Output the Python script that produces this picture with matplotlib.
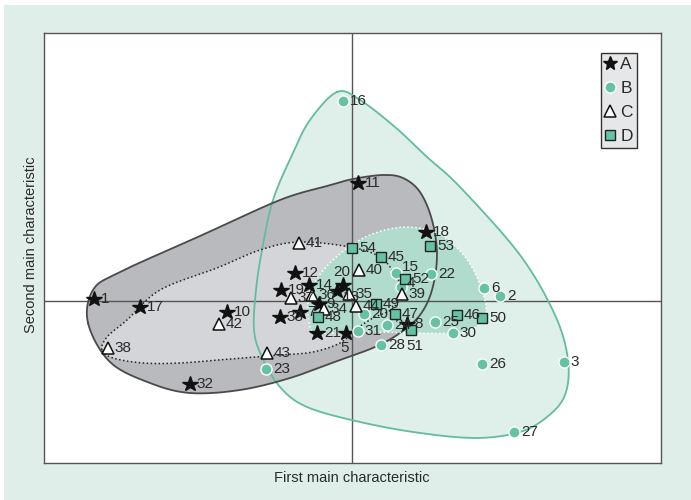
import numpy as np
import matplotlib
matplotlib.use("Agg")
import matplotlib.pyplot as plt
from matplotlib.patches import Polygon, Rectangle
from matplotlib.lines import Line2D

# ---------------- data (first / second main characteristic) ----------------
A_labels = ["1", "17", "10", "32", "19", "12", "14", "33", "7", "9", "21", "5", "20", "13", "11", "18", "8"]
A_x = [-2.58, -2.12, -1.25, -1.62, -0.71, -0.57, -0.43, -0.72, -0.52, -0.33, -0.35, -0.06, -0.09, -0.15, 0.06, 0.74, 0.55]
A_y = [0.02, -0.06, -0.11, -0.83, 0.11, 0.28, 0.16, -0.16, -0.11, -0.03, -0.32, -0.32, 0.16, 0.10, 1.18, 0.69, -0.23]

B_labels = ["16", "15", "4", "22", "20", "31", "24", "28", "25", "30", "6", "2", "26", "3", "27", "23"]
B_x = [-0.09, 0.44, 0.49, 0.79, 0.12, 0.06, 0.35, 0.29, 0.83, 1.01, 1.32, 1.48, 1.30, 2.12, 1.62, -0.86]
B_y = [2.00, 0.28, 0.14, 0.27, -0.13, -0.30, -0.24, -0.44, -0.21, -0.32, 0.13, 0.05, -0.63, -0.61, -1.31, -0.68]

C_labels = ["41", "40", "37", "36", "34", "35", "44", "39", "42", "38", "43"]
C_x = [-0.53, 0.07, -0.61, -0.40, -0.28, -0.03, 0.04, 0.50, -1.33, -2.44, -0.85]
C_y = [0.58, 0.31, 0.03, 0.06, -0.08, 0.07, -0.05, 0.07, -0.23, -0.47, -0.52]

D_labels = ["54", "45", "53", "52", "49", "48", "47", "51", "46", "50"]
D_x = [0.00, 0.29, 0.78, 0.53, 0.24, -0.34, 0.43, 0.59, 1.05, 1.30]
D_y = [0.53, 0.44, 0.55, 0.22, -0.03, -0.16, -0.13, -0.29, -0.14, -0.17]

# group envelopes (control points of smooth closed outlines)
hullA_x = [-2.64, -2.59, -2.32, -1.52, -0.72, -0.25, 0.01, 0.31, 0.51, 0.68, 0.80, 0.85, 0.80, 0.68, 0.48, 0.23, -0.12, -0.62, -1.12, -1.62, -2.02, -2.42]
hullA_y = [-0.22, 0.11, 0.29, 0.65, 1.01, 1.15, 1.22, 1.26, 1.23, 1.09, 0.81, 0.46, 0.11, -0.14, -0.32, -0.46, -0.59, -0.77, -0.89, -0.92, -0.82, -0.61]

hullB_x = [-0.15, 0.08, 0.43, 0.75, 1.08, 1.68, 2.03, 2.16, 2.13, 1.95, 1.68, 1.25, 0.68, 0.08, -0.45, -0.72, -0.90, -0.98, -0.96, -0.90, -0.79, -0.59, -0.42]
hullB_y = [2.09, 2.01, 1.74, 1.44, 1.14, 0.46, -0.14, -0.59, -0.94, -1.16, -1.31, -1.37, -1.32, -1.21, -1.06, -0.86, -0.56, -0.29, 0.11, 0.51, 1.01, 1.48, 1.81]

hullC_x = [-2.50, -2.45, -2.25, -1.92, -1.35, -0.92, -0.53, -0.02, 0.28, 0.44, 0.50, 0.40, 0.21, 0.03, -0.12, -0.39, -0.72, -1.22, -1.72, -2.09, -2.39]
hullC_y = [-0.49, -0.36, -0.19, 0.11, 0.33, 0.51, 0.59, 0.54, 0.44, 0.25, 0.09, -0.08, -0.17, -0.29, -0.42, -0.51, -0.54, -0.58, -0.62, -0.62, -0.57]

hullD_x = [-0.40, -0.44, -0.39, -0.24, -0.02, 0.23, 0.53, 0.83, 1.03, 1.18, 1.30, 1.34, 1.24, 1.03, 0.68, 0.18, -0.22]
hullD_y = [-0.30, -0.04, 0.16, 0.36, 0.55, 0.68, 0.74, 0.69, 0.55, 0.37, 0.11, -0.12, -0.26, -0.32, -0.32, -0.31, -0.32]

legend_labels = ["A", "B", "C", "D"]

# ---------------- styling ----------------
GREEN = "#66c2a5"
GREEN_EDGE = "#62bd9c"
MINT_BG = "#e0eee9"
MINT_HULL = "#dfefe9"
TEAL = "#b1dccd"
GRAY_DARK = "#b9babe"
GRAY_LIGHT = "#d4d5d8"
TXT = "#2a2a2a"
LBL_FONT = ["Liberation Sans Narrow", "Liberation Sans", "DejaVu Sans"]


def closed_spline(xs, ys, n=20):
    P = np.column_stack([xs, ys]).astype(float)
    m = len(P)
    out = []
    t = np.linspace(0, 1, n, endpoint=False)[:, None]
    for i in range(m):
        p0, p1, p2, p3 = P[(i - 1) % m], P[i], P[(i + 1) % m], P[(i + 2) % m]
        seg = 0.5 * ((2 * p1) + (-p0 + p2) * t + (2 * p0 - 5 * p1 + 4 * p2 - p3) * t ** 2
                     + (-p0 + 3 * p1 - 3 * p2 + p3) * t ** 3)
        out.append(seg)
    out = np.vstack(out)
    return np.vstack([out, out[:1]])


fig = plt.figure(figsize=(6.91, 5.0), dpi=100)
fig.patch.set_facecolor("white")
fig.patches.append(Rectangle((4 / 691, 0), 1, 495 / 500, transform=fig.transFigure,
                             facecolor=MINT_BG, edgecolor="none", zorder=-10))

ax = fig.add_axes([44 / 691, 1 - 463 / 500, 617 / 691, 430 / 500])
ax.set_zorder(1)
ax.set_facecolor("white")
ax.set_xlim(-3.08, 3.09)
ax.set_ylim(-1.62, 2.68)
ax.set_xticks([])
ax.set_yticks([])
for s in ax.spines.values():
    s.set_color("#555555")
    s.set_linewidth(1.0)

# envelopes
sB = closed_spline(hullB_x, hullB_y)
sA = closed_spline(hullA_x, hullA_y)
sC = closed_spline(hullC_x, hullC_y)
sD = closed_spline(hullD_x, hullD_y)
ax.add_patch(Polygon(sB, closed=True, facecolor=MINT_HULL, edgecolor="none", zorder=1))
ax.add_patch(Polygon(sA, closed=True, facecolor=GRAY_DARK, edgecolor="none", zorder=2))
ax.add_patch(Polygon(sC, closed=True, facecolor=GRAY_LIGHT, edgecolor="none", zorder=3))
ax.add_patch(Polygon(sD, closed=True, facecolor=TEAL, edgecolor="none", zorder=4))

ax.axhline(0, color="#555555", lw=1.0, zorder=5)
ax.axvline(0, color="#555555", lw=1.0, zorder=5)

ax.plot(sB[:, 0], sB[:, 1], color=GREEN_EDGE, lw=1.3, zorder=6)
ax.plot(sA[:, 0], sA[:, 1], color="#4a4a4a", lw=1.3, zorder=6)
ax.plot(sC[:, 0], sC[:, 1], color="#222222", lw=1.1, ls=(0, (1, 1.6)), zorder=6)
ax.plot(sD[:, 0], sD[:, 1], color="white", lw=1.1, ls=(0, (1, 1.6)), zorder=6)

# markers
ax.plot(A_x, A_y, ls="none", marker="*", ms=11.5, mfc="#111111", mec="#111111", zorder=8)
ax.plot(B_x, B_y, ls="none", marker="o", ms=8, mfc=GREEN, mec="white", mew=1.0, zorder=8)
ax.plot(C_x, C_y, ls="none", marker="^", ms=9, mfc="white", mec="#111111", mew=1.1, zorder=8)
ax.plot(D_x, D_y, ls="none", marker="s", ms=7.5, mfc=GREEN, mec="#222222", mew=1.0, zorder=8)

special = {("A", "5"): (-1, -10.5, "center"), ("D", "51"): (3, -11.5, "center"),
           ("A", "20"): (-1, 9.5, "center"), ("A", "13"): (4, -4, "left"),
           ("B", "15"): (4, 4, "left"), ("B", "4"): (4, 3, "left")}


def label(group, labels, xs, ys):
    for lab, x, y in zip(labels, xs, ys):
        dx, dy, ha = special.get((group, lab), (5, 0, "left"))
        ax.annotate(lab, (x, y), xytext=(dx, dy), textcoords="offset points",
                    ha=ha, va="center", fontsize=11, color=TXT,
                    family=LBL_FONT, zorder=9)


label("A", A_labels, A_x, A_y)
label("B", B_labels, B_x, B_y)
label("C", C_labels, C_x, C_y)
label("D", D_labels, D_x, D_y)

handles = [
    Line2D([], [], ls="none", marker="*", ms=10, mfc="#111111", mec="#111111"),
    Line2D([], [], ls="none", marker="o", ms=8, mfc=GREEN, mec="white"),
    Line2D([], [], ls="none", marker="^", ms=8, mfc="white", mec="#111111", mew=1.1),
    Line2D([], [], ls="none", marker="s", ms=7.5, mfc=GREEN, mec="#222222"),
]
leg = ax.legend(handles, legend_labels, loc="upper right", bbox_to_anchor=(593 / 617, 410 / 430),
                borderaxespad=0, frameon=True, fancybox=False, handlelength=0.5,
                handletextpad=0.35, labelspacing=0.5, borderpad=0.25,
                prop={"family": ["Liberation Sans", "DejaVu Sans"], "size": 12.5})
leg.get_frame().set_facecolor("#e6e7e9")
leg.get_frame().set_edgecolor("#333333")
leg.get_frame().set_linewidth(1.0)
leg.get_frame().set_alpha(1)
for t in leg.get_texts():
    t.set_color(TXT)
leg.set_zorder(10)

fig.text(352 / 691, 1 - 478 / 500, "First main characteristic", ha="center", va="center",
         fontsize=10.5, color=TXT, family=["Liberation Sans Narrow", "Liberation Sans", "DejaVu Sans"])
fig.text(31 / 691, 1 - 245 / 500, "Second main characteristic", ha="center", va="center",
         rotation=90, fontsize=10.5, color=TXT,
         family=["Liberation Sans Narrow", "Liberation Sans", "DejaVu Sans"])

fig.savefig("out.png", dpi=100, facecolor=fig.get_facecolor())
